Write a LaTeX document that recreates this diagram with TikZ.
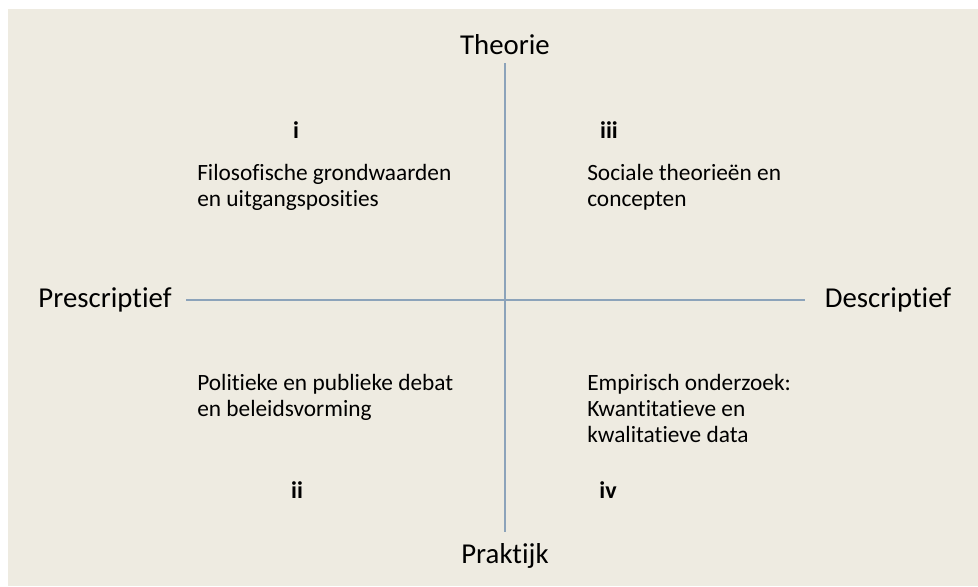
\documentclass[tikz,border=0pt]{standalone}
\usepackage{fontspec}
\setmainfont[Ligatures={NoCommon,NoContextual}]{Carlito}
\definecolor{paper}{RGB}{238,235,225}
\definecolor{axisblue}{RGB}{140,163,186}
\begin{document}
\begin{tikzpicture}[x=0.75pt, y=-0.75pt, every node/.style={inner sep=0pt}]
\useasboundingbox (0,0) rectangle (978,586);
\fill[paper] (8,9) rectangle (978,586);

\tikzset{every node/.style={inner sep=0pt, font=\fontsize{21.6}{26}\selectfont}}
\node (T) at (505,45) {Theorie};
\node (P) at (505,556) {Praktijk};
\node (Pre) at (105,300) {Prescriptief};
\node (Des) at (888,300) {Descriptief};

\tikzset{every node/.style={inner sep=0pt, font=\fontsize{18}{19.5}\selectfont\bfseries}}
\node (i) at (296,130) {i};
\node (iii) at (609,130) {iii};
\node (ii) at (297,490) {ii};
\node (iv) at (608,490) {iv};

\tikzset{every node/.style={inner sep=0pt, anchor=north west, align=left, font=\fontsize{17.5}{19.5}\selectfont}}
\node (qi) at (197,164) {Filosofische grondwaarden\\en uitgangsposities};
\node (qiii) at (587,164) {Sociale theorieën en\\concepten};
\node (qii) at (197,374) {Politieke en publieke debat\\en beleidsvorming};
\node (qiv) at (587,374) {Empirisch onderzoek:\\Kwantitatieve en\\kwalitatieve data};

\tikzset{axisline/.style={axisblue, line width=1.6pt}}
\path (T) edge [axisline, shorten <=6pt, shorten >=8.6pt] (P);
\path (Pre) edge [axisline, shorten <=11pt, shorten >=15pt] (Des);
\end{tikzpicture}
\end{document}
